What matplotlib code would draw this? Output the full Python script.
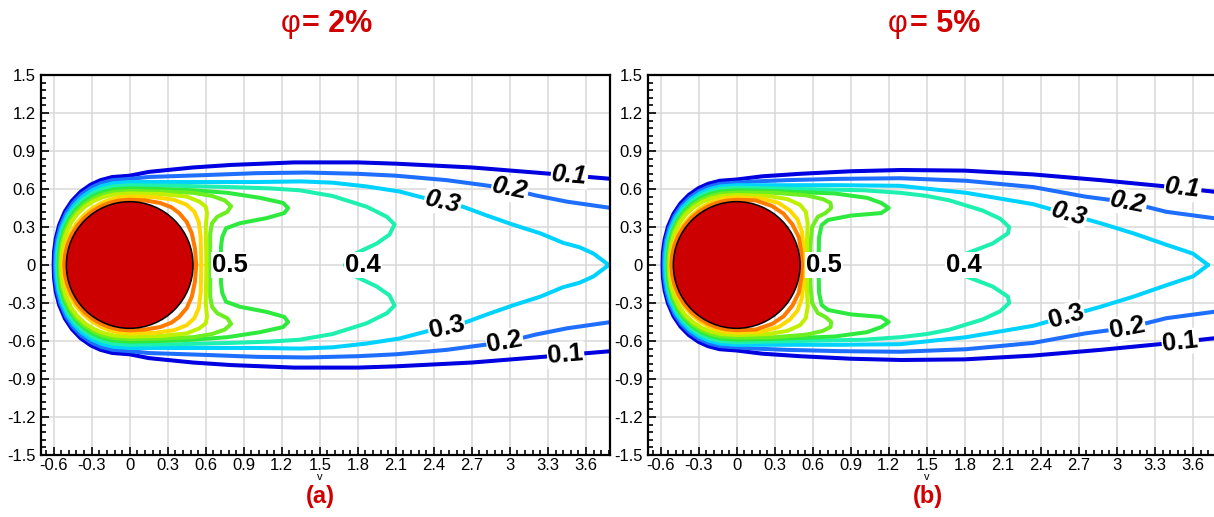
import matplotlib

matplotlib.use("Agg")
import matplotlib.pyplot as plt
import numpy as np
from matplotlib.patches import Circle
from matplotlib.ticker import FixedLocator, MultipleLocator

plt.rcParams["font.family"] = ["Liberation Sans", "DejaVu Sans"]
plt.rcParams["axes.unicode_minus"] = False

LEVELS = [0.1, 0.2, 0.3, 0.4, 0.5, 0.6, 0.7, 0.8, 0.9]
LEVEL_COLORS = ["#0000e0", "#1e6eff", "#00d2ff", "#1ef0b0", "#2eea3e",
                "#6cee20", "#c0f000", "#ffd800", "#ff7a00"]
PHI_VALUES = ["2%", "5%"]
PANEL_TAGS = ["(a)", "(b)"]

X_TICKS = [-0.6, -0.3, 0, 0.3, 0.6, 0.9, 1.2, 1.5, 1.8, 2.1, 2.4, 2.7, 3, 3.3, 3.6]
X_TICK_LABELS = ["-0.6", "-0.3", "0", "0.3", "0.6", "0.9", "1.2", "1.5", "1.8",
                 "2.1", "2.4", "2.7", "3", "3.3", "3.6"]
Y_TICKS = [-1.5, -1.2, -0.9, -0.6, -0.3, 0, 0.3, 0.6, 0.9, 1.2, 1.5]
Y_TICK_LABELS = ["-1.5", "-1.2", "-0.9", "-0.6", "-0.3", "0", "0.3", "0.6",
                 "0.9", "1.2", "1.5"]
CYLINDER_RADIUS = 0.5

# upstream outline of the iso-lines, as fractions of (stand-off distance,
# height above the cylinder centre); outer lines are blunter than inner ones
BLUNT_NOSE = [(1, 0), (0.995, 0.15), (0.972, 0.30), (0.927, 0.45), (0.852, 0.60),
              (0.759, 0.72), (0.646, 0.82), (0.513, 0.90), (0.385, 0.95),
              (0.23, 0.985), (0, 1)]
ROUND_NOSE = [(1, 0), (0.989, 0.15), (0.954, 0.30), (0.893, 0.45), (0.80, 0.60),
              (0.694, 0.72), (0.572, 0.82), (0.436, 0.90), (0.312, 0.95),
              (0.173, 0.985), (0, 1)]
NOSE_SHAPE = [BLUNT_NOSE] * 7 + [ROUND_NOSE] * 2

# per level: stand-off distance ahead of the centre, height above the centre at x = 0
NOSE_A = [(0.60, 0.705), (0.59, 0.68), (0.58, 0.655), (0.57, 0.63), (0.56, 0.605),
          (0.55, 0.585), (0.54, 0.565), (0.528, 0.54), (0.516, 0.516)]
NOSE_B = [(0.585, 0.675), (0.575, 0.65), (0.565, 0.63), (0.555, 0.61), (0.545, 0.59),
          (0.538, 0.572), (0.53, 0.553), (0.522, 0.535), (0.515, 0.515)]

# upper half of each iso-line downstream of x = 0 (lower half is mirrored)
# phi = 2%
A01 = [(0.15, 0.735), (0.30, 0.75), (0.50, 0.77), (0.80, 0.79), (1.30, 0.81),
       (1.80, 0.81), (2.10, 0.80), (2.70, 0.77), (3.20, 0.73), (3.50, 0.705),
       (3.80, 0.68)]
A02 = [(0.15, 0.695), (0.30, 0.70), (0.60, 0.71), (1.00, 0.725), (1.40, 0.73),
       (1.80, 0.72), (2.10, 0.705), (2.50, 0.67), (2.80, 0.63), (3.00, 0.60),
       (3.20, 0.55), (3.45, 0.50), (3.80, 0.45)]
A03 = [(0.15, 0.655), (0.50, 0.655), (1.00, 0.655), (1.35, 0.66), (1.60, 0.65),
       (1.87, 0.62), (2.13, 0.58), (2.34, 0.525), (2.63, 0.46), (2.82, 0.39),
       (3.02, 0.32), (3.24, 0.25), (3.42, 0.175), (3.55, 0.14), (3.66, 0.09),
       (3.78, 0)]
A04 = [(0.40, 0.625), (0.80, 0.615), (1.10, 0.605), (1.34, 0.59), (1.60, 0.545),
       (1.87, 0.46), (2.03, 0.38), (2.09, 0.32), (2.05, 0.24), (1.95, 0.17),
       (1.76, 0.08), (1.70, 0)]
A05 = [(0.24, 0.60), (0.50, 0.59), (0.77, 0.57), (1.03, 0.53), (1.21, 0.49),
       (1.25, 0.45), (1.22, 0.41), (1.08, 0.37), (0.87, 0.33), (0.76, 0.29),
       (0.73, 0.22), (0.72, 0.14), (0.72, 0)]
A06 = [(0.25, 0.58), (0.50, 0.57), (0.65, 0.545), (0.75, 0.51), (0.80, 0.465),
       (0.77, 0.42), (0.69, 0.38), (0.65, 0.33), (0.635, 0.25), (0.635, 0)]
A07 = [(0.25, 0.56), (0.45, 0.54), (0.55, 0.50), (0.60, 0.46), (0.61, 0.41),
       (0.60, 0.30), (0.605, 0)]
A08 = [(0.20, 0.535), (0.35, 0.515), (0.45, 0.475), (0.51, 0.42), (0.545, 0.34),
       (0.56, 0.22), (0.565, 0)]
A09 = [(0.12, 0.51), (0.24, 0.49), (0.33, 0.455), (0.39, 0.41), (0.45, 0.34),
       (0.49, 0.25), (0.515, 0.13), (0.525, 0)]

# phi = 5%
B01 = [(0.20, 0.70), (0.50, 0.72), (0.90, 0.74), (1.30, 0.75), (1.80, 0.745),
       (2.34, 0.715), (2.87, 0.67), (3.39, 0.62), (3.80, 0.575)]
B02 = [(0.15, 0.66), (0.40, 0.67), (0.80, 0.68), (1.29, 0.685), (1.81, 0.665),
       (2.34, 0.615), (2.75, 0.54), (3.09, 0.495), (3.39, 0.42), (3.80, 0.365)]
B03 = [(0.30, 0.63), (0.80, 0.63), (1.29, 0.625), (1.81, 0.57), (2.34, 0.48),
       (2.62, 0.40), (2.87, 0.33), (3.13, 0.25), (3.39, 0.16), (3.60, 0.09),
       (3.72, 0)]
B04 = [(0.50, 0.60), (1.00, 0.59), (1.29, 0.57), (1.50, 0.545), (1.68, 0.51),
       (1.94, 0.43), (2.08, 0.365), (2.15, 0.30), (2.14, 0.25), (2.02, 0.17),
       (1.81, 0.09), (1.68, 0)]
B05 = [(0.25, 0.585), (0.50, 0.575), (0.77, 0.565), (1.03, 0.53), (1.14, 0.49),
       (1.20, 0.45), (1.14, 0.41), (0.90, 0.39), (0.72, 0.355), (0.67, 0.315),
       (0.65, 0.22), (0.645, 0)]
B06 = [(0.30, 0.57), (0.55, 0.55), (0.68, 0.52), (0.74, 0.49), (0.745, 0.45),
       (0.70, 0.41), (0.64, 0.38), (0.595, 0.30), (0.58, 0.15), (0.58, 0)]
B07 = [(0.25, 0.545), (0.40, 0.52), (0.50, 0.475), (0.545, 0.42), (0.56, 0.33),
       (0.555, 0.20), (0.555, 0)]
B08 = [(0.20, 0.525), (0.33, 0.49), (0.42, 0.43), (0.48, 0.36), (0.515, 0.26),
       (0.53, 0.12), (0.535, 0)]
B09 = [(0.15, 0.51), (0.28, 0.465), (0.37, 0.405), (0.44, 0.32), (0.49, 0.22),
       (0.51, 0.10), (0.515, 0)]

PANEL_WAKES = [[A01, A02, A03, A04, A05, A06, A07, A08, A09],
               [B01, B02, B03, B04, B05, B06, B07, B08, B09]]
PANEL_NOSES = [NOSE_A, NOSE_B]

# label placement: (level index, x, branch) with branch +1 upper,
# -1 lower, 0 on the symmetry axis
PANEL_LABELS = [
    [(0, 3.47, 1), (0, 3.44, -1), (1, 3.00, 1), (1, 2.96, -1),
     (2, 2.47, 1), (2, 2.50, -1), (3, 1.84, 0), (4, 0.79, 0)],
    [(0, 3.52, 1), (0, 3.50, -1), (1, 3.09, 1), (1, 3.08, -1),
     (2, 2.62, 1), (2, 2.60, -1), (3, 1.79, 0), (4, 0.69, 0)],
]

RED = "#d10000"
W, H = 1214, 517


def upper_half(nose, shape, wake):
    dist, height = nose
    pts = [(-dist * fx, height * fy) for fx, fy in shape]
    return pts + list(wake)


def full_line(upper):
    xs = [p[0] for p in upper]
    ys = [p[1] for p in upper]
    return np.array(xs[::-1] + xs[1:]), np.array(ys[::-1] + [-v for v in ys[1:]])


def style_axes(ax):
    ax.set_xlim(-0.70, 3.79)
    ax.set_ylim(-1.5, 1.5)
    ax.xaxis.set_major_locator(FixedLocator(X_TICKS))
    ax.yaxis.set_major_locator(FixedLocator(Y_TICKS))
    ax.set_xticklabels(X_TICK_LABELS)
    ax.set_yticklabels(Y_TICK_LABELS)
    ax.xaxis.set_minor_locator(MultipleLocator(0.06))
    ax.yaxis.set_minor_locator(MultipleLocator(0.06))
    ax.tick_params(which="both", direction="in", top=False, right=False,
                   width=1.2, color="black", labelsize=12)
    ax.tick_params(which="major", length=6)
    ax.tick_params(which="minor", length=3.5)
    ax.tick_params(axis="x", pad=2)
    ax.tick_params(axis="y", pad=4)
    ax.grid(which="major", color="#d8d8d8", lw=1.1)
    ax.set_axisbelow(True)
    for sp in ax.spines.values():
        sp.set_linewidth(1.6)
        sp.set_color("black")


def draw_panel(ax, noses, wakes, labels):
    style_axes(ax)
    uppers = [upper_half(n, s, w) for n, s, w in zip(noses, NOSE_SHAPE, wakes)]
    for upper, color in zip(uppers, LEVEL_COLORS):
        xs, ys = full_line(upper)
        ax.plot(xs, ys, color=color, lw=2.9, solid_joinstyle="round",
                solid_capstyle="round", zorder=2)
    ax.add_patch(Circle((0, 0), CYLINDER_RADIUS, facecolor="#cc0000",
                        edgecolor="black", lw=1.1, zorder=3))

    for idx, x, branch in labels:
        text = f"{LEVELS[idx]:.1f}"
        box = dict(facecolor="white", edgecolor="none", pad=0.5)
        if branch == 0:
            ax.text(x, 0, text, ha="center", va="center", fontsize=18.5,
                    fontweight="bold", bbox=box, zorder=5)
            continue
        ux = [p[0] for p in wakes[idx]]
        uy = [p[1] for p in wakes[idx]]
        y = np.interp(x, ux, uy)
        slope = (np.interp(x + 0.1, ux, uy) - np.interp(x - 0.1, ux, uy)) / 0.2
        angle = np.degrees(np.arctan(slope)) * branch
        ax.text(x, branch * y, text, ha="center", va="center", fontsize=18.5,
                fontweight="bold", style="italic" if branch > 0 else "normal",
                rotation=angle, rotation_mode="anchor", bbox=box, zorder=5)

    ax.text(1.5, -0.058, "v", transform=ax.get_xaxis_transform(), ha="center",
            va="center", fontsize=8)


fig = plt.figure(figsize=(W / 100, H / 100), dpi=100)
lefts = [41, 648]
for k, left in enumerate(lefts):
    ax = fig.add_axes([left / W, 62 / H, 569 / W, 380 / H])
    draw_panel(ax, PANEL_NOSES[k], PANEL_WAKES[k], PANEL_LABELS[k])
    cx = left + 569 / 2
    fig.text((cx - 25) / W, 1 - 32 / H, "φ", ha="right", va="baseline",
             fontsize=22, color=RED)
    fig.text((cx - 23) / W, 1 - 32 / H, "= " + PHI_VALUES[k], ha="left",
             va="baseline", fontsize=22, fontweight="bold", color=RED)
    fig.text((cx - 5) / W, 1 - 497 / H, PANEL_TAGS[k], ha="center", va="center",
             fontsize=17, fontweight="bold", color=RED)

fig.savefig("out.png", dpi=100)
